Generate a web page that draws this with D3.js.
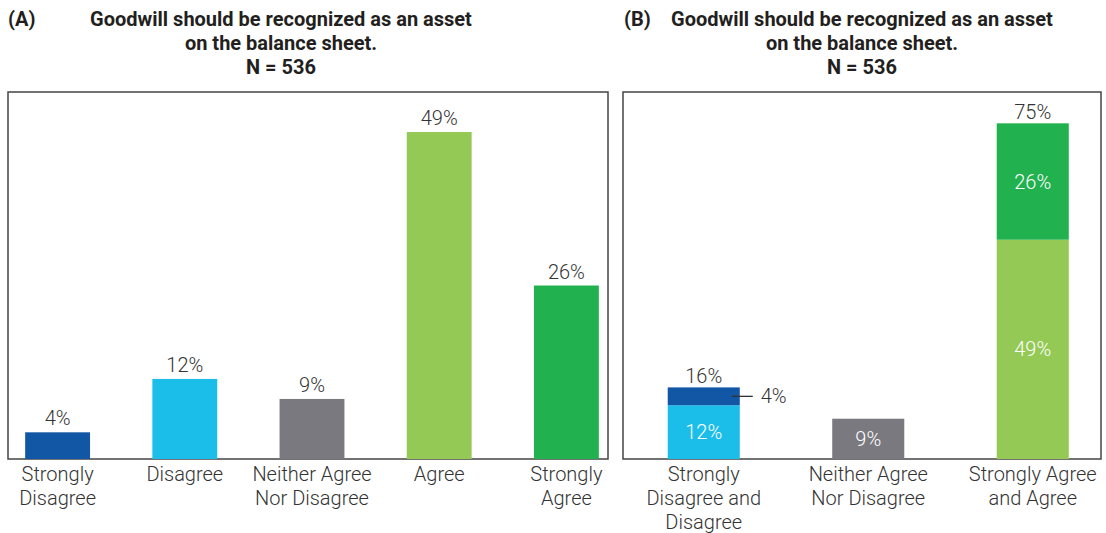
<!DOCTYPE html>
<html>
<head>
<meta charset="utf-8">
<script src="https://cdn.jsdelivr.net/npm/d3@7"></script>
<style>
  html, body { margin: 0; padding: 0; background: #fff; }
  svg { display: block; font-family: Roboto, "DejaVu Sans", sans-serif; }
</style>
</head>
<body>
<svg id="chart" width="1106" height="533"></svg>
<script>
// ---------- DATA ----------
const panelTags = ["(A)", "(B)"];
const titleLines = ["Goodwill should be recognized as an asset", "on the balance sheet.", "N = 536"];

// Panel A
const categoriesA = ["Strongly Disagree", "Disagree", "Neither Agree Nor Disagree", "Agree", "Strongly Agree"];
const valuesA = [4, 12, 9, 49, 26];
const tickLinesA = [["Strongly", "Disagree"], ["Disagree"], ["Neither Agree", "Nor Disagree"], ["Agree"], ["Strongly", "Agree"]];

// Panel B (stacked)
const categoriesB = ["Strongly Disagree and Disagree", "Neither Agree Nor Disagree", "Strongly Agree and Agree"];
const tickLinesB = [["Strongly", "Disagree and", "Disagree"], ["Neither Agree", "Nor Disagree"], ["Strongly Agree", "and Agree"]];
const seriesB = ["Disagree", "Strongly Disagree", "Neither Agree Nor Disagree", "Agree", "Strongly Agree"];
const disagreeB = [12, 0, 0];
const stronglyDisagreeB = [4, 0, 0];
const neitherB = [0, 9, 0];
const agreeB = [0, 0, 49];
const stronglyAgreeB = [0, 0, 26];

// ---------- STYLE ----------
const colors = {
  "Strongly Disagree": "#1257a5",
  "Disagree": "#1bbde9",
  "Neither Agree Nor Disagree": "#7a797f",
  "Agree": "#93c954",
  "Strongly Agree": "#21b14f"
};
const textColor = "#333";
const lightWeight = 300;
const svg = d3.select("#chart");

// ---------- TITLES ----------
function drawTitle(tag, tagX, centerX) {
  svg.append("text").attr("x", tagX).attr("y", 26)
    .attr("font-size", 20).attr("font-weight", 700).attr("fill", "#231f20").text(tag);
  titleLines.forEach((l, i) => {
    svg.append("text").attr("x", centerX).attr("y", 26 + i * 24)
      .attr("text-anchor", "middle").attr("font-size", 20).attr("font-weight", 700)
      .attr("fill", "#231f20").text(l);
  });
}
drawTitle(panelTags[0], 8, 281);
drawTitle(panelTags[1], 624, 862);

// ---------- PANEL A ----------
const boxA = { x: 8, y: 92, w: 600, h: 367 };
const xA = d3.scaleBand().domain(categoriesA).range([-6, 630]).paddingInner(0.49).paddingOuter(0.245);
const yA = d3.scaleLinear().domain([0, 55]).range([boxA.y + boxA.h, boxA.y]);

svg.append("rect").attr("x", boxA.x).attr("y", boxA.y).attr("width", boxA.w).attr("height", boxA.h)
  .attr("fill", "none").attr("stroke", "#444").attr("stroke-width", 1.5);

const gA = svg.append("g");
gA.selectAll("rect.bar").data(categoriesA).join("rect").attr("class", "bar")
  .attr("x", d => xA(d)).attr("width", xA.bandwidth())
  .attr("y", (d, i) => yA(valuesA[i])).attr("height", (d, i) => yA(0) - yA(valuesA[i]))
  .attr("fill", d => colors[d]);
gA.selectAll("text.val").data(categoriesA).join("text").attr("class", "val")
  .attr("x", d => xA(d) + xA.bandwidth() / 2).attr("y", (d, i) => yA(valuesA[i]) - 7)
  .attr("text-anchor", "middle").attr("font-size", 20).attr("font-weight", lightWeight).attr("fill", textColor)
  .text((d, i) => valuesA[i] + "%");

function drawAxis(g, x, lines, yPos) {
  const ax = g.append("g").attr("transform", `translate(0,${yPos})`)
    .call(d3.axisBottom(x).tickSize(0).tickPadding(0));
  ax.select(".domain").remove();
  ax.selectAll(".tick text").each(function (d, i) {
    const t = d3.select(this);
    t.text(null).attr("y", 0).attr("dy", null)
      .attr("font-size", 20).attr("font-family", "Roboto, sans-serif")
      .attr("font-weight", lightWeight).attr("fill", textColor);
    lines[i].forEach((l, j) => t.append("tspan").attr("x", 0).attr("y", 22 + j * 24).text(l));
  });
}
drawAxis(gA, xA, tickLinesA, boxA.y + boxA.h);

// ---------- PANEL B ----------
const boxB = { x: 623, y: 92, w: 478, h: 367 };
const xB = d3.scaleBand().domain(categoriesB).range([621.5, 1115]).paddingInner(0.562).paddingOuter(0.281);
const yB = d3.scaleLinear().domain([0, 82]).range([boxB.y + boxB.h, boxB.y]);

svg.append("rect").attr("x", boxB.x).attr("y", boxB.y).attr("width", boxB.w).attr("height", boxB.h)
  .attr("fill", "none").attr("stroke", "#444").attr("stroke-width", 1.5);

const seriesValues = {
  "Disagree": disagreeB,
  "Strongly Disagree": stronglyDisagreeB,
  "Neither Agree Nor Disagree": neitherB,
  "Agree": agreeB,
  "Strongly Agree": stronglyAgreeB
};
const tableB = categoriesB.map((c, i) => {
  const row = { category: c };
  seriesB.forEach(s => row[s] = seriesValues[s][i]);
  return row;
});
const stackedB = d3.stack().keys(seriesB)(tableB);

const gB = svg.append("g");
stackedB.forEach(layer => {
  const key = layer.key;
  layer.forEach((seg, i) => {
    const v = seg[1] - seg[0];
    if (v <= 0) return;
    const x0 = xB(seg.data.category), bw = xB.bandwidth();
    gB.append("rect").attr("x", x0).attr("width", bw)
      .attr("y", yB(seg[1])).attr("height", yB(seg[0]) - yB(seg[1]))
      .attr("fill", colors[key]);
    const h = yB(seg[0]) - yB(seg[1]);
    const cy = (yB(seg[0]) + yB(seg[1])) / 2;
    if (h >= 30) {
      gB.append("text").attr("x", x0 + bw / 2).attr("y", cy).attr("dy", "0.35em")
        .attr("text-anchor", "middle").attr("font-size", 20).attr("font-weight", lightWeight)
        .attr("fill", "#fff").text(v + "%");
    } else {
      gB.append("line").attr("x1", x0 + bw - 8).attr("x2", x0 + bw + 13)
        .attr("y1", cy).attr("y2", cy).attr("stroke", textColor).attr("stroke-width", 1.3);
      gB.append("text").attr("x", x0 + bw + 21).attr("y", cy).attr("dy", "0.35em")
        .attr("font-size", 20).attr("font-weight", lightWeight).attr("fill", textColor).text(v + "%");
    }
  });
});
// totals above multi-segment bars
tableB.forEach((row, i) => {
  const parts = seriesB.map(s => row[s]).filter(v => v > 0);
  if (parts.length < 2) return;
  const total = d3.sum(parts);
  gB.append("text").attr("x", xB(row.category) + xB.bandwidth() / 2).attr("y", yB(total) - 4)
    .attr("text-anchor", "middle").attr("font-size", 20).attr("font-weight", lightWeight)
    .attr("fill", textColor).text(total + "%");
});
drawAxis(gB, xB, tickLinesB, boxB.y + boxB.h);
</script>
</body>
</html>
